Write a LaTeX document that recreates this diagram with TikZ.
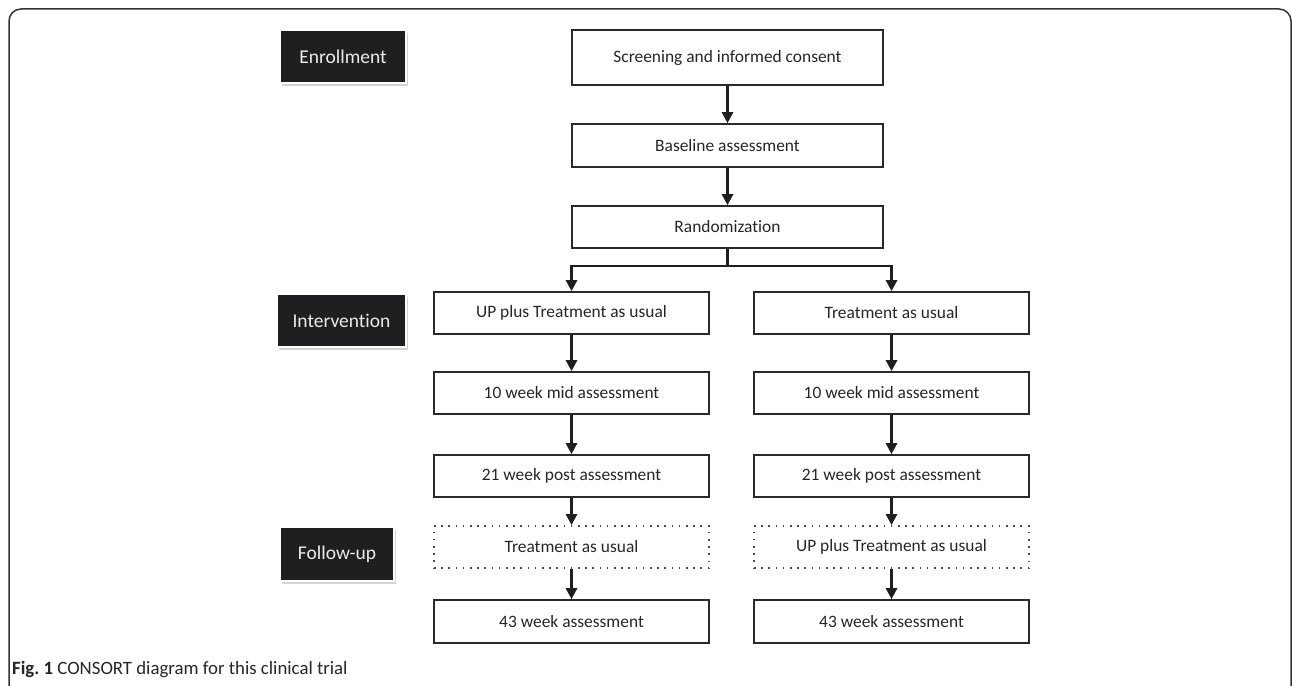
\documentclass[tikz,border=0pt]{standalone}
\usepackage{fontspec}
\setmainfont{Carlito}[Ligatures=NoCommon]
\usetikzlibrary{arrows.meta,shadows}
\definecolor{boxline}{HTML}{2A2A2A}
\definecolor{labfill}{HTML}{1F1F21}
\begin{document}
\begin{tikzpicture}[x=1pt,y=-1pt,
  flowbox/.style={draw=boxline,line width=1.6pt,fill=white,minimum width=275pt,minimum height=42pt,inner sep=0pt,font=\fontsize{17.4}{20}\selectfont,text=black!85},
  dotbox/.style={flowbox,draw=black!70,line width=1.8pt,dash pattern=on 1.6pt off 5.6pt},
  phase/.style={fill=labfill,draw=white,line width=2.5pt,text=white!92!black,inner sep=0pt,font=\fontsize{19.5}{22}\selectfont,drop shadow={opacity=0.35,shadow xshift=1.5pt,shadow yshift=-3pt}},
  flow/.style={line width=2.6pt,draw=black!88,-{Triangle[width=11pt,length=11pt]}},
  trunk/.style={line width=2.6pt,draw=black!88}
]
\useasboundingbox (0,0) rectangle (1292,685);
% outer frame
\draw[line width=1.5pt,draw=black!80] (9,686) -- (9,21) arc[start angle=180,end angle=270,radius=12] -- (1279,9) arc[start angle=-90,end angle=0,radius=12] -- (1291,686);

% phase labels
\node[phase,minimum width=126pt,minimum height=53pt] (enr) at (343,56.5) {Enrollment};
\node[phase,minimum width=129pt,minimum height=53pt] (int) at (341.5,320.5) {Intervention};
\node[phase,minimum width=114pt,minimum height=54pt] (fol) at (337,554) {Follow-up};

% central column
\node[flowbox,minimum width=311pt,minimum height=55pt] (scr) at (727.5,57.5) {Screening and informed consent};
\node[flowbox,minimum width=311pt,minimum height=43pt] (base) at (727.5,145.5) {Baseline assessment};
\node[flowbox,minimum width=311pt,minimum height=42pt] (rand) at (727.5,227) {Randomization};

% left arm
\node[flowbox] (l1) at (571.5,313) {UP plus Treatment as usual};
\node[flowbox] (l2) at (571.5,393) {10 week mid assessment};
\node[flowbox] (l3) at (571.5,476) {21 week post assessment};
\node[dotbox] (l4) at (571.5,547) {Treatment as usual};
\node[flowbox,minimum height=43pt] (l5) at (571.5,621.5) {43 week assessment};

% right arm
\node[flowbox] (r1) at (891.5,313) {Treatment as usual};
\node[flowbox] (r2) at (891.5,393) {10 week mid assessment};
\node[flowbox] (r3) at (891.5,476) {21 week post assessment};
\node[dotbox] (r4) at (891.5,547) {UP plus Treatment as usual};
\node[flowbox,minimum height=43pt] (r5) at (891.5,621.5) {43 week assessment};

% connectors
\draw[flow] (scr) -- (base);
\draw[flow] (base) -- (rand);
\coordinate (split) at (727.5,266);
\draw[trunk] (rand.south) -- (split);
\draw[flow] (split) -| (l1.north);
\draw[flow] (split) -| (r1.north);
\draw[flow] (l1) -- (l2);
\draw[flow] (l2) -- (l3);
\draw[flow] (l3) -- (l4);
\draw[flow] (l4) -- (l5);
\draw[flow] (r1) -- (r2);
\draw[flow] (r2) -- (r3);
\draw[flow] (r3) -- (r4);
\draw[flow] (r4) -- (r5);

% caption
\node[anchor=base west,inner sep=0pt,font=\fontsize{18.8}{22}\selectfont,text=black!85] (cap) at (12,674) {\textbf{Fig.~1} CONSORT diagram for this clinical trial};
\end{tikzpicture}
\end{document}
